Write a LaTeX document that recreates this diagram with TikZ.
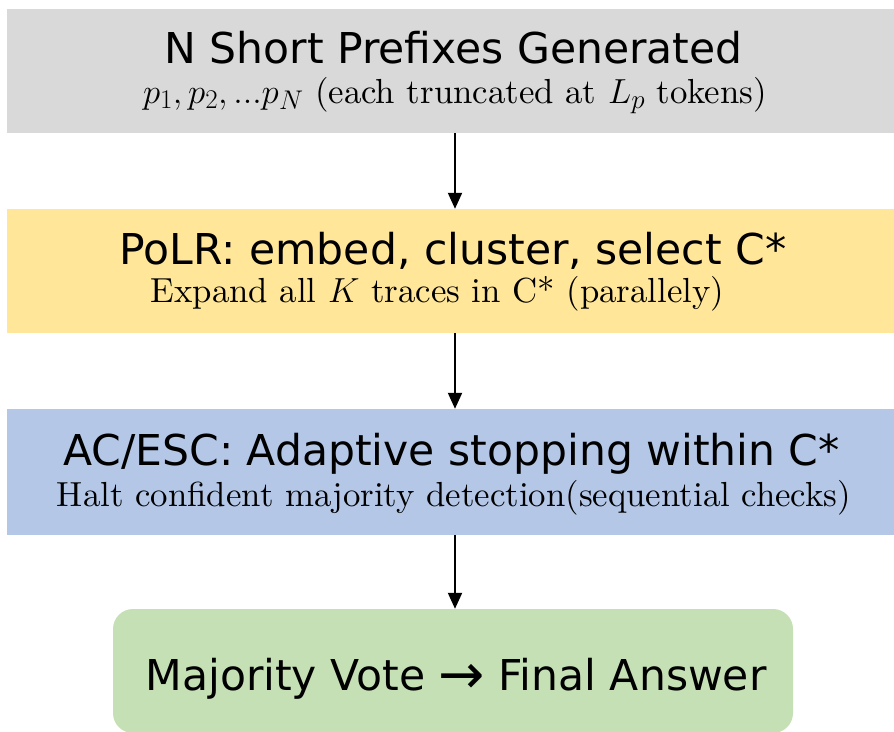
\RequirePackage{fix-cm}
\documentclass[tikz,border=0pt]{standalone}
\usepackage{fontspec}
\setmainfont{lmroman10-regular}[Extension=.otf,ItalicFont=lmroman10-italic]
\newfontfamily\dejavu{DejaVu Sans}
\usetikzlibrary{arrows.meta}
\DeclareMathSizes{34.8}{34.8}{27}{21}
\definecolor{boxgray}{HTML}{D9D9D9}
\definecolor{boxyellow}{HTML}{FFE699}
\definecolor{boxblue}{HTML}{B4C7E7}
\definecolor{boxgreen}{HTML}{C5E0B4}
\newcommand{\bigarrowglyph}{\raisebox{-3pt}{\scalebox{1.3}[1.3]{→}}}
\tikzset{
  stagebox/.style={draw=none, minimum width=887pt, minimum height=124pt, inner sep=0pt},
  titletext/.style={anchor=base, inner sep=0pt, font=\dejavu\fontsize{42.5}{50}\selectfont},
  subtext/.style={anchor=base, inner sep=0pt, font=\fontsize{34.8}{40}\selectfont},
  flowarrow/.style={line width=2pt, -{Triangle[length=16pt,width=14pt]}}
}
\begin{document}
\begin{tikzpicture}[x=1pt,y=-1pt]
\useasboundingbox (0,0) rectangle (894,731);
\fill[white] (0,0) rectangle (894,731);
\begin{scope}
\clip (0,0) rectangle (894,731);
\node[stagebox, fill=boxgray] (b1) at (450.5,71) {};
\node[stagebox, fill=boxyellow] (b2) at (450.5,271) {};
\node[stagebox, fill=boxblue, minimum height=126pt] (b3) at (450.5,472) {};
\node[stagebox, fill=boxgreen, minimum width=680pt, rounded corners=20pt] (b4) at (453,671) {};
\end{scope}
\node[titletext] (t1) at (453.5,63) {N Short Prefixes Generated};
\node[subtext] (s1) at (455,103) {$p_1, p_2, ...p_N$ (each truncated at $L_p$ tokens)};
\node[titletext] (t2) at (453,264) {PoLR: embed, cluster, select C*};
\node[subtext] (s2) at (437.5,302) {Expand all $K$ traces in C* (parallely)};
\node[titletext] (t3) at (451.5,465) {AC/ESC: Adaptive stopping within C*};
\node[subtext] (s3) at (454,506) {Halt confident majority detection(sequential checks)};
\node[titletext] (t4) at (456,690) {Majority Vote \bigarrowglyph{} Final Answer};
\coordinate (ax) at (455,0);
\draw[flowarrow] (b1.south -| ax) -- (b2.north -| ax);
\draw[flowarrow] (b2.south -| ax) -- (b3.north -| ax);
\draw[flowarrow] (b3.south -| ax) -- (b4.north -| ax);
\end{tikzpicture}
\end{document}
